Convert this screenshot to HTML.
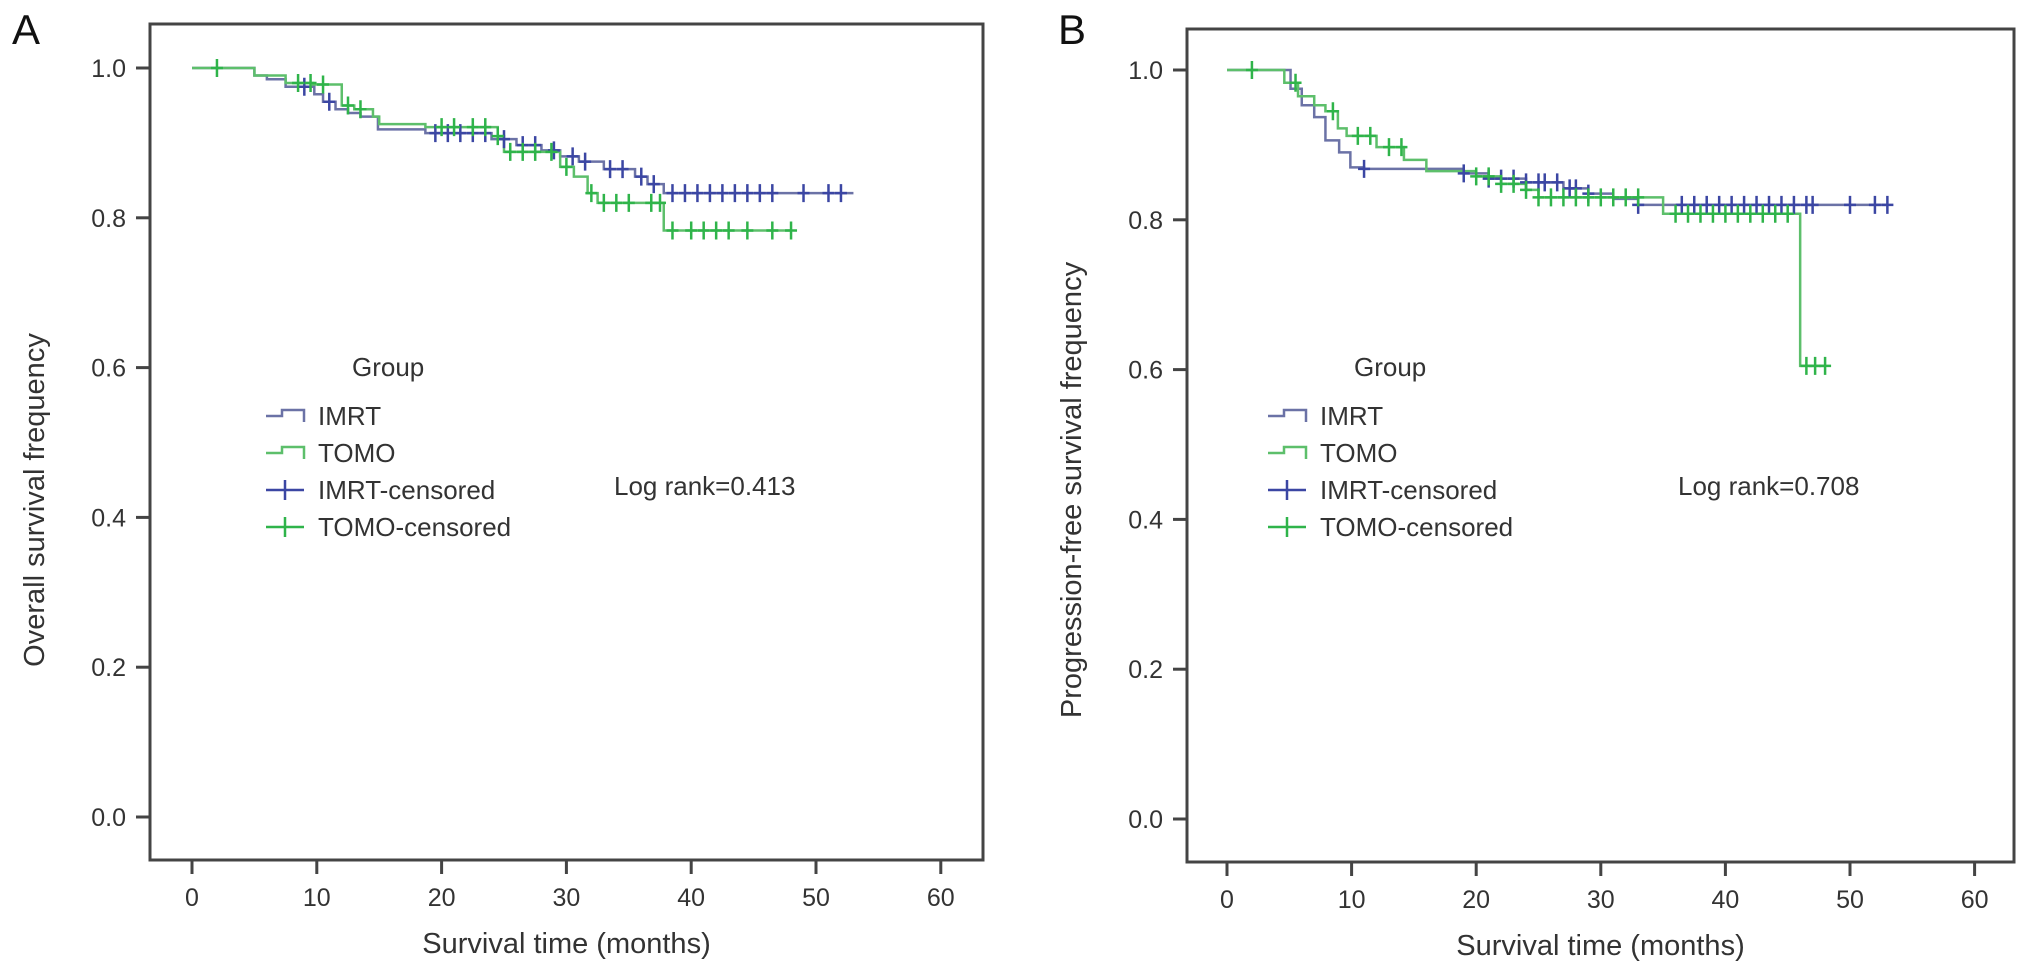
<!DOCTYPE html>
<html><head><meta charset="utf-8"><style>
body{margin:0;background:#fff}
svg{display:block;font-family:"Liberation Sans",Arial,sans-serif}
</style></head><body>
<svg id="fig" width="2032" height="973" viewBox="0 0 2032 973"></svg>
<script>
// ---- Panel A data (overall survival) ----
const aImrtT = [0,5,6,7.5,9.8,10.5,11.5,12.5,13.5,14.9,18.7,24,26,28,29.5,31,33,35.5,36.5,37.8,53];
const aImrtV = [1.0,0.99,0.985,0.975,0.965,0.955,0.945,0.94,0.935,0.918,0.913,0.905,0.897,0.89,0.882,0.875,0.865,0.855,0.845,0.833,0.833];
const aTomoT = [0,5,7.5,9.7,12,13,14.5,15,18.7,24.5,25,28.3,29.5,30.6,31.7,32.5,37.8,48];
const aTomoV = [1.0,0.99,0.98,0.978,0.95,0.945,0.935,0.925,0.921,0.909,0.888,0.888,0.868,0.855,0.833,0.82,0.783,0.783];
const aImrtCens = [9,11,19.5,20.5,21.5,22.5,23.5,25,26.5,27.5,29,30.5,31.5,33.5,34.5,36,37,38.5,39.5,40.5,41.5,42.5,43.5,44.5,45.5,46.5,49,51,52];
const aTomoCens = [2,8.5,9.5,10.5,12.5,13.5,20,21,22.5,23.5,24.5,25.5,26.5,27.5,28.8,30,32,33,34,35,36.8,37.5,38.5,40,41,42,43,44.5,46.5,48];
// ---- Panel B data (progression-free survival) ----
const bImrtT = [0,5.1,6,7,7.9,9,9.9,11,19,21,24,27,29,31,33,53];
const bImrtV = [1.0,0.975,0.953,0.937,0.906,0.89,0.87,0.868,0.862,0.855,0.85,0.842,0.835,0.828,0.82,0.82];
const bTomoT = [0,4.6,5.7,7,7.9,8.9,9.6,12,14.2,16,20,22,24,25,35,46,48];
const bTomoV = [1.0,0.983,0.965,0.953,0.945,0.922,0.912,0.897,0.88,0.865,0.858,0.848,0.84,0.83,0.808,0.605,0.605];
const bImrtCens = [11,19,21,22,23,24,25,25.5,26.5,27.5,28,29,33,36.5,37.5,38.5,39.5,40.5,41.5,42.5,43.5,44.5,45.5,46.5,47,50,52,53];
const bTomoCens = [2,5.5,8.5,10.5,11.5,13,14,20,21,22,23,24,25,26,27,28,29,30,31,32,33,36,37,38,39,40,41,42,43,44,45,46.5,47.2,48];
const xTicks = [0,10,20,30,40,50,60];
const yTicks = [0.0,0.2,0.4,0.6,0.8,1.0];

const NS="http://www.w3.org/2000/svg";
const svg=document.getElementById('fig');
function mk(tag,attrs,parent){const e=document.createElementNS(NS,tag);for(const k in attrs)e.setAttribute(k,attrs[k]);(parent||svg).appendChild(e);return e;}
function stepVal(T,V,t){let v=V[0];for(let i=0;i<T.length;i++){if(T[i]<=t)v=V[i];}return v;}

const IMRT_LINE="#6b72a6", IMRT_CENS="#3b46a3", TOMO_LINE="#5dbf6b", TOMO_CENS="#2fb44a";

function panel(cfg){
  const g=mk('g',{});
  
  
  const X=t=>cfg.x0+t*cfg.xs;
  const Y=v=>cfg.y0-v*cfg.ys;
  const fr=mk('rect',{x:cfg.L,y:cfg.T,width:cfg.R-cfg.L,height:cfg.B-cfg.T,fill:'none',stroke:'#444','stroke-width':3},g);
  
  
  xTicks.forEach(t=>{
    const l=mk('line',{x1:X(t),x2:X(t),y1:cfg.B,y2:cfg.B+14,stroke:'#444','stroke-width':3},g);
    
    
    const tx=mk('text',{x:X(t),y:cfg.B+46,'font-size':25,'text-anchor':'middle',fill:'#333'},g);
    
    
    tx.textContent=t;
  });
  yTicks.forEach(v=>{
    const l=mk('line',{x1:cfg.L-14,x2:cfg.L,y1:Y(v),y2:Y(v),stroke:'#444','stroke-width':3},g);
    
    
    const tx=mk('text',{x:cfg.L-24,y:Y(v)+9,'font-size':25,'text-anchor':'end',fill:'#333'},g);
    
    
    tx.textContent=v.toFixed(1);
  });
  const xt=mk('text',{x:(cfg.L+cfg.R)/2,y:cfg.B+93,'font-size':29,'text-anchor':'middle',fill:'#333'},g);
  
  
  xt.textContent='Survival time (months)';
  const yt=mk('text',{x:0,y:0,'font-size':29,'text-anchor':'middle',fill:'#333',transform:`translate(${cfg.ytx},${cfg.ytc}) rotate(-90)`},g);
  
  
  yt.textContent=cfg.ytitle;
  const pl=mk('text',{x:cfg.lx,y:44,'font-size':42,fill:'#111'},g);
  
  
  pl.textContent=cfg.letter;

  function curve(T,V,color,nm){
    let d=`M${X(T[0])},${Y(V[0])}`;
    for(let i=1;i<T.length;i++){d+=` H${X(T[i])} V${Y(V[i])}`;}
    const p=mk('path',{d,fill:'none',stroke:color,'stroke-width':2.5},g);
    
    
  }
  function cens(C,T,V,color,nm){
    C.forEach(t=>{
      const v=stepVal(T,V,t), cx=X(t), cy=Y(v);
      const p=mk('path',{d:`M${cx},${cy-9} V${cy+9} M${cx-6},${cy} H${cx+6}`,stroke:color,'stroke-width':2.5,fill:'none'},g);
      
      
    });
  }
  curve(cfg.it,cfg.iv,IMRT_LINE,'imrt-survival-curve');
  curve(cfg.tt,cfg.tv,TOMO_LINE,'tomo-survival-curve');
  cens(cfg.ic,cfg.it,cfg.iv,IMRT_CENS,'imrt-censor-mark');
  cens(cfg.tc,cfg.tt,cfg.tv,TOMO_CENS,'tomo-censor-mark');

  const lg=mk('g',{},g);
  
  
  const gt=mk('text',{x:cfg.gx+86,y:376,'font-size':26,fill:'#333'},lg);
  
  
  gt.textContent='Group';
  const ents=[['IMRT',IMRT_LINE,0],['TOMO',TOMO_LINE,0],['IMRT-censored',IMRT_CENS,1],['TOMO-censored',TOMO_CENS,1]];
  ents.forEach((e,i)=>{
    const cy=416+i*37;
    const x0=cfg.gx;
    let d;
    if(e[2]===0) d=`M${x0},${cy} H${x0+16} V${cy-6} H${x0+38} V${cy+6}`;
    else d=`M${x0},${cy} H${x0+38} M${x0+19},${cy-10} V${cy+10}`;
    const p=mk('path',{d,stroke:e[1],'stroke-width':2.5,fill:'none'},lg);
    
    
    const t=mk('text',{x:x0+52,y:cy+9,'font-size':26,fill:'#333'},lg);
    
    
    t.textContent=e[0];
  });
  const lr=mk('text',{x:cfg.lrx,y:495,'font-size':26,fill:'#333'},g);
  
  
  lr.textContent=cfg.lr;
}

panel({name:'panel-a-overall-survival',letter:'A',lx:12,L:150,R:983,T:24,B:860,x0:192,xs:12.48,y0:817,ys:749,
  ytx:44,ytc:500,ytitle:'Overall survival frequency',gx:266,lrx:614,lr:'Log rank=0.413',
  it:aImrtT,iv:aImrtV,tt:aTomoT,tv:aTomoV,ic:aImrtCens,tc:aTomoCens});
panel({name:'panel-b-progression-free-survival',letter:'B',lx:1058,L:1187,R:2014,T:29,B:862,x0:1227,xs:12.46,y0:819,ys:749,
  ytx:1081,ytc:490,ytitle:'Progression-free survival frequency',gx:1268,lrx:1678,lr:'Log rank=0.708',
  it:bImrtT,iv:bImrtV,tt:bTomoT,tv:bTomoV,ic:bImrtCens,tc:bTomoCens});
</script>
</body></html>
